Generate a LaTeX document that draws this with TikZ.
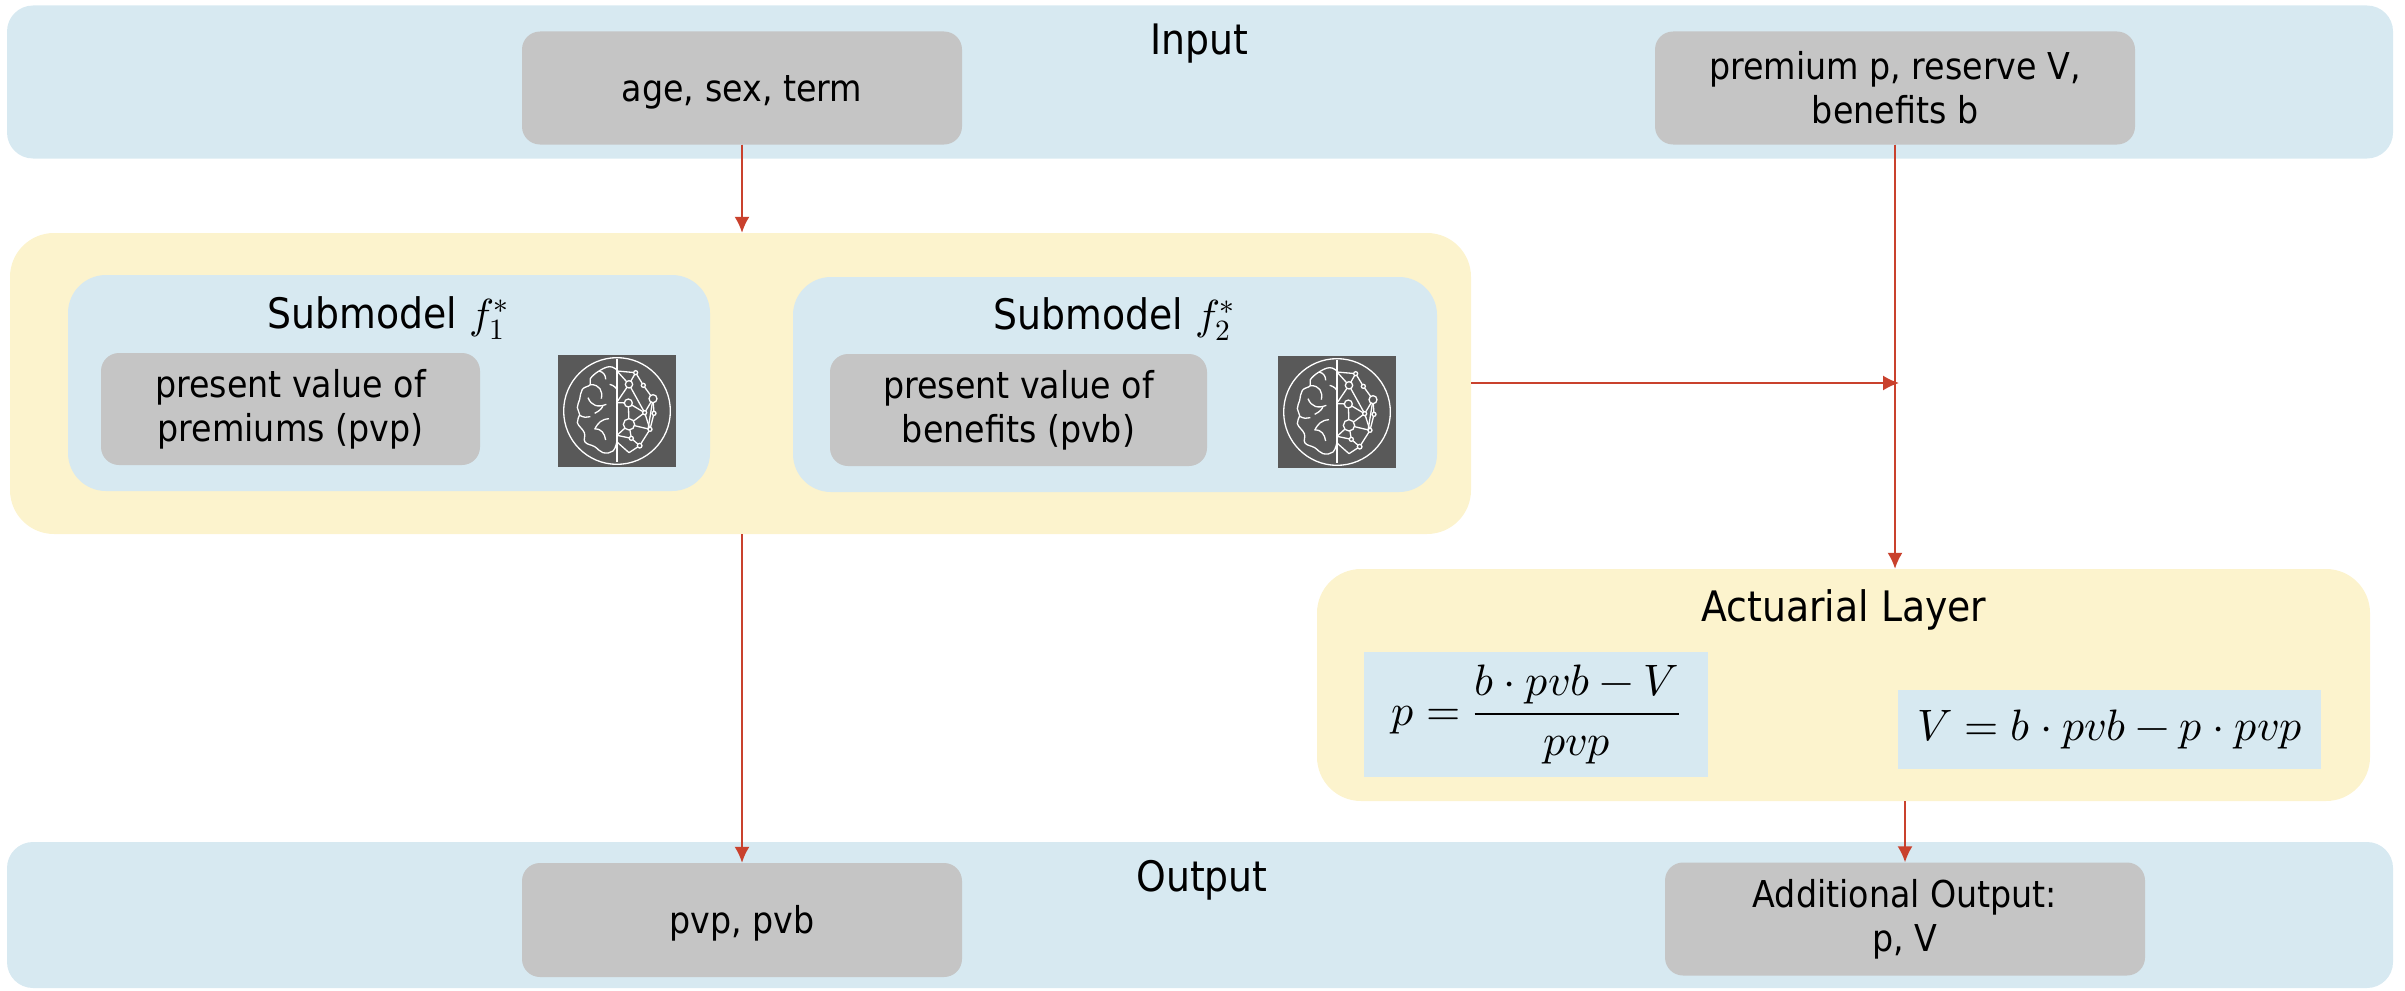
\documentclass[tikz,border=0pt]{standalone}
\usepackage{amsmath}
\usepackage{fontspec}
\usepackage{unicode-math}
\setmainfont{DejaVu Sans Condensed}
\setmathfont{Latin Modern Math}
\usetikzlibrary{positioning,arrows.meta}
\definecolor{bandblue}{HTML}{D7E9F1}
\definecolor{layeryellow}{HTML}{FCF3CD}
\definecolor{boxgray}{HTML}{C5C5C5}
\definecolor{icongray}{HTML}{595959}
\definecolor{arrowred}{HTML}{C9412D}

\begin{document}
\begin{tikzpicture}[
x=1pt, y=-1pt,
band/.style={draw=none, fill=bandblue, rounded corners=26pt, inner sep=0pt},
layer/.style={draw=none, fill=layeryellow, rounded corners=44pt, inner sep=0pt},
sub/.style={draw=none, fill=bandblue, rounded corners=38pt, inner sep=0pt},
field/.style={draw=none, fill=boxgray, rounded corners=18pt, inner sep=0pt, align=center, font=\fontsize{37}{44}\selectfont, execute at begin node={\rule{0pt}{.95em}}},
title/.style={inner sep=0pt, font=\fontsize{42}{50}\selectfont},
formula/.style={draw=none, fill=bandblue, inner sep=0pt, font=\fontsize{44}{52}\selectfont},
icon/.style={draw=none, fill=icongray, inner sep=0pt, minimum width=118pt, minimum height=112pt},
link/.style={-{Latex[length=16pt,width=15pt]}, draw=arrowred, fill=arrowred, line width=1.8pt},
brain/.pic={
  \begin{scope}[scale=1/3, shift={(-352,-245)}, draw=white, line width=1.3pt]
  \draw (352,245) circle[radius=160];
  \draw (352,90) -- (352,398);
  % left half
  \draw plot[smooth, tension=.7] coordinates {(352,122) (330,112) (298,125) (272,148) (272,166) (248,180) (240,210) (233,235) (240,256) (233,280) (254,310) (256,338) (285,352) (310,370) (340,365) (352,335)};
  \draw (272,166) .. controls (300,165) and (310,185) .. (305,208);
  \draw (265,205) .. controls (275,230) and (295,235) .. (320,225);
  \draw (285,252) .. controls (303,243) and (308,235) .. (310,228);
  \draw (240,258) .. controls (252,265) and (262,265) .. (272,262);
  \draw (328,268) .. controls (305,270) and (295,280) .. (285,300);
  \draw (285,298) .. controls (305,298) and (315,312) .. (318,332);
  \draw (330,165) .. controls (342,168) and (350,175) .. (352,182);
  \draw (298,125) .. controls (312,128) and (318,138) .. (318,150);
  % right half
  \foreach \a/\b/\c/\d in {352/125/408/130, 352/125/388/165, 408/130/388/165, 408/130/431/168, 431/168/460/208, 388/165/352/218, 352/220/386/221, 386/221/435/250, 386/221/388/285, 388/285/435/250, 435/250/460/208, 388/165/435/250, 460/208/463/252, 435/250/451/300, 463/252/451/300, 460/208/445/300, 388/285/451/300, 388/285/352/318, 352/318/395/327, 395/327/420/349, 451/300/420/349, 420/349/388/370, 388/370/352/338, 388/285/395/327}
    \draw (\a,\b) -- (\c,\d);
  \foreach \a/\b/\r in {408/130/6, 388/165/11, 431/168/6, 460/208/12, 386/221/12, 435/250/6, 463/252/6, 388/285/17, 451/300/6, 395/327/6, 420/349/7}
    \draw[fill=icongray] (\a,\b) circle[radius=\r];
  \end{scope}
}
]
\useasboundingbox (0,0) rectangle (2405,990);

% bands
\node[band, minimum width=2386pt, minimum height=153pt] (inband) at (1200,82) {};
\node[band, minimum width=2386pt, minimum height=146pt] (outband) at (1200,915) {};
\node[title] (intitle) at (1199,44) {Input};
\node[title] (outtitle) at (1202,880) {Output};
\node[field, minimum width=440pt, minimum height=113pt] (inA) at (742,88) {age, sex, term};
\node[field, minimum width=480pt, minimum height=113pt] (inB) at (1895,88) {premium p, reserve V,\\benefits b};
\node[field, minimum width=440pt, minimum height=114pt] (outA) at (742,920) {pvp, pvb};
\node[field, minimum width=480pt, minimum height=113pt] (outB) at (1905,919) {Additional Output:\\p, V};

% submodels
\node[layer, minimum width=1461pt, minimum height=301pt] (main) at (740.5,383.5) {};
\node[sub, minimum width=642pt, minimum height=216pt] (subA) at (389,383) {};
\node[sub, minimum width=644pt, minimum height=215pt] (subB) at (1115,384.5) {};
\node[title] (subAtitle) at (388,318) {Submodel $f_1^*$};
\node[title] (subBtitle) at (1114,319) {Submodel $f_2^*$};
\node[field, minimum width=379pt, minimum height=112pt] (pvp) at (290.5,409) {present value of\\premiums (pvp)};
\node[field, minimum width=377pt, minimum height=112pt] (pvb) at (1018.5,410) {present value of\\benefits (pvb)};
\node[icon] (brainA) at (617,411) {};
\node[icon] (brainB) at (1337,412) {};
\pic at (brainA) {brain};
\pic at (brainB) {brain};

% actuarial layer
\node[layer, minimum width=1053pt, minimum height=232pt] (act) at (1843.5,685) {};
\node[title] (acttitle) at (1844,610) {Actuarial Layer};
\node[formula, minimum width=344pt, minimum height=125pt] (premium) at (1536,714.5) {$p=\dfrac{b\cdot pvb-V}{pvp}$};
\node[formula, minimum width=423pt, minimum height=79pt] (reserve) at (2109.5,729.5) {$V=b\cdot pvb-p\cdot pvp$};

% arrows
\coordinate (join) at (1899,383);
\draw[link] (inA.south) -- (inA.south |- main.north);
\draw[link] (inB.south) -- (inB.south |- act.north);
\draw[link] (main.east |- join) -- (join);
\draw[link] (outA.north |- main.south) -- (outA.north);
\draw[link] (outB.north |- act.south) -- (outB.north);
\end{tikzpicture}
\end{document}
